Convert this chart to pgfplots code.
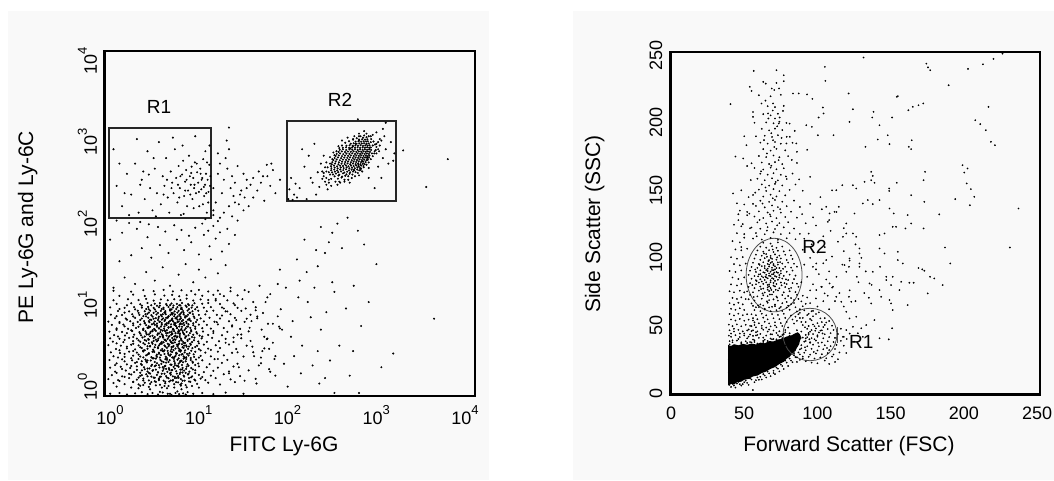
\documentclass[border=0pt]{standalone}
\usepackage{pgfplots}
\pgfplotsset{compat=1.18}
\usepackage{fontspec}
\setmainfont{Liberation Sans}
\definecolor{panel}{RGB}{249,249,249}
\newcommand\tp[1]{10\raisebox{0.55em}{\fontsize{13bp}{14bp}\selectfont #1}}
\newcommand\tickfont{\fontsize{18bp}{21bp}\selectfont}
\newcommand\labfont{\fontsize{21bp}{24bp}\selectfont}
\newcommand\regfont{\fontsize{19bp}{22bp}\selectfont}

\pgfplotsset{
  cyto/.style={
    scale only axis, anchor=south west, axis on top,
    axis line style={line width=2.6bp},
    tick style={draw=none},
    ticklabel style={font=\tickfont},
  },
  dots/.style={only marks, mark=*, mark size=#1, mark options={draw=none, fill=black}},
}

\begin{document}
\begin{tikzpicture}[x=1bp,y=1bp]
\path[use as bounding box] (0,0) rectangle (1054,481);
\fill[white] (0,0) rectangle (1054,481);
\fill[panel] (8,1) rectangle (489,470);
\fill[panel] (573,1) rectangle (1054,470);

% ---------------- left: Ly-6G vs Ly-6G/Ly-6C (log/log)
\begin{axis}[cyto,
  at={(104.7bp,85bp)}, width=370.3bp, height=345bp,
  xmode=log, ymode=log,
  xmin=0.955, xmax=14190, ymin=0.844, ymax=14450,
  xtick={1,10,100,1000,10000}, xticklabels={\tp{0},\tp{1},\tp{2},\tp{3},\tp{4}},
  ytick={1,10,100,1000,10000}, yticklabels={\tp{0},\tp{1},\tp{2},\tp{3},\tp{4}},
  xticklabel style={anchor=north, inner ysep=9bp, xshift=3.5bp},
  yticklabel style={yshift=3.5bp, rotate=90, anchor=south, inner ysep=7.5bp},
]
% main population
\addplot[dots=0.85bp] coordinates {
(1.1,0.9) (1.4,0.92) (1.7,0.88) (2.1,0.91) (2.5,0.94) (2.9,0.89) (3.3,0.92) (3.8,0.88) (4.3,0.93) (4.9,0.9) (5.4,0.87) (6.0,0.92) (6.6,0.89) (7.3,0.91) (8.2,0.94) (9.5,0.9) (12,0.92) (16,0.89) (22,0.93) (35,0.9)
(1.2,1.22) (1.6,1.18) (2.0,1.25) (2.3,1.17) (2.7,1.23) (3.1,1.19) (3.6,1.26) (4.0,1.16) (4.6,1.21) (5.1,1.27) (5.8,1.18) (6.4,1.24) (7.0,1.2) (7.8,1.15) (8.8,1.26) (10.5,1.19) (14,1.23) (19,1.17) (28,1.25)
(1.05,1.36) (1.35,1.32) (1.8,1.4) (2.2,1.34) (2.6,1.38) (3.0,1.31) (3.4,1.42) (3.9,1.35) (4.4,1.3) (5.0,1.39) (5.6,1.33) (6.2,1.41) (6.9,1.36) (7.6,1.3) (8.5,1.4) (9.8,1.34) (11.5,1.38) (13,1.32) (17,1.4) (25,1.35) (48,1.37)
(1.15,1.52) (1.5,1.47) (1.9,1.55) (2.4,1.49) (2.8,1.56) (3.2,1.46) (3.7,1.53) (4.2,1.58) (4.7,1.48) (5.3,1.54) (5.9,1.45) (6.7,1.57) (7.4,1.5) (8.3,1.55) (9.2,1.47) (11,1.53) (15,1.5) (21,1.56) (32,1.48)
(1.25,1.68) (1.65,1.73) (2.05,1.66) (2.5,1.74) (2.9,1.69) (3.35,1.75) (3.8,1.65) (4.3,1.72) (4.85,1.67) (5.5,1.76) (6.1,1.7) (6.8,1.64) (7.5,1.73) (8.6,1.68) (10,1.75) (12.5,1.66) (16,1.72) (24,1.69) (40,1.74) (70,1.67)
(1.1,1.88) (1.45,1.93) (1.85,1.86) (2.2,1.95) (2.65,1.9) (3.05,1.84) (3.5,1.96) (3.95,1.89) (4.5,1.94) (5.05,1.85) (5.7,1.92) (6.4,1.97) (7.2,1.87) (8.0,1.93) (9.0,1.86) (11,1.95) (13.5,1.9) (18,1.88) (27,1.94)
(1.3,2.12) (1.7,2.06) (2.1,2.15) (2.45,2.08) (2.85,2.18) (3.25,2.04) (3.7,2.13) (4.15,2.09) (4.7,2.17) (5.25,2.05) (5.9,2.14) (6.5,2.1) (7.3,2.19) (8.2,2.07) (9.4,2.16) (10.8,2.11) (14.5,2.08) (20,2.15) (30,2.1) (55,2.13)
(1.08,2.33) (1.5,2.38) (1.95,2.31) (2.3,2.4) (2.75,2.36) (3.15,2.3) (3.6,2.42) (4.05,2.34) (4.6,2.39) (5.15,2.32) (5.75,2.41) (6.3,2.35) (7.0,2.29) (7.9,2.4) (8.9,2.33) (10.2,2.37) (12,2.31) (16.5,2.39) (23,2.34)
(1.2,2.6) (1.6,2.55) (2.0,2.64) (2.4,2.57) (2.8,2.66) (3.2,2.53) (3.65,2.62) (4.1,2.68) (4.65,2.56) (5.2,2.63) (5.85,2.54) (6.6,2.67) (7.4,2.58) (8.4,2.65) (9.7,2.55) (11.5,2.62) (15,2.59) (21,2.66) (35,2.57) (80,2.61)
(1.12,2.9) (1.42,2.85) (1.8,2.95) (2.2,2.88) (2.6,2.97) (3.0,2.83) (3.45,2.93) (3.9,2.87) (4.4,2.98) (4.95,2.84) (5.5,2.92) (6.1,2.86) (6.8,2.96) (7.6,2.89) (8.6,2.82) (10,2.94) (13,2.88) (18,2.95) (26,2.86) (45,2.91)
(1.28,3.18) (1.7,3.24) (2.1,3.15) (2.5,3.27) (2.9,3.2) (3.35,3.13) (3.8,3.25) (4.25,3.19) (4.8,3.29) (5.4,3.16) (6.0,3.23) (6.7,3.14) (7.4,3.28) (8.3,3.2) (9.3,3.26) (11,3.17) (14,3.22) (19,3.28) (29,3.18) (60,3.24)
(1.05,3.55) (1.45,3.5) (1.9,3.6) (2.3,3.52) (2.7,3.63) (3.1,3.48) (3.55,3.58) (4.0,3.65) (4.5,3.51) (5.1,3.6) (5.7,3.47) (6.4,3.57) (7.1,3.64) (7.9,3.53) (8.9,3.59) (10.5,3.49) (12.5,3.61) (17,3.54) (24,3.62) (38,3.5)
(1.18,3.92) (1.55,3.86) (2.0,3.98) (2.4,3.9) (2.8,4.02) (3.25,3.85) (3.7,3.95) (4.2,3.88) (4.7,4.0) (5.3,3.91) (5.9,3.84) (6.6,3.97) (7.3,3.89) (8.2,4.01) (9.2,3.87) (10.8,3.94) (13.5,3.9) (18.5,3.97) (27,3.88)
(1.1,4.3) (1.4,4.25) (1.8,4.36) (2.2,4.28) (2.55,4.4) (2.95,4.22) (3.4,4.33) (3.85,4.27) (4.35,4.38) (4.9,4.24) (5.5,4.34) (6.2,4.41) (6.9,4.26) (7.7,4.35) (8.6,4.23) (9.8,4.39) (11.8,4.29) (15.5,4.36) (22,4.25) (33,4.32) (65,4.28)
(1.22,4.72) (1.62,4.66) (2.05,4.78) (2.45,4.68) (2.85,4.8) (3.3,4.64) (3.75,4.75) (4.2,4.82) (4.75,4.67) (5.35,4.76) (6.0,4.63) (6.7,4.73) (7.5,4.8) (8.4,4.69) (9.5,4.77) (11.2,4.65) (14,4.74) (20,4.7) (30,4.78)
(1.08,5.2) (1.5,5.15) (1.95,5.28) (2.35,5.12) (2.75,5.25) (3.15,5.18) (3.6,5.3) (4.05,5.14) (4.6,5.24) (5.15,5.1) (5.8,5.27) (6.45,5.19) (7.2,5.31) (8.0,5.16) (9.0,5.26) (10.3,5.13) (12.2,5.22) (16,5.29) (23,5.17) (40,5.24)
(1.3,5.7) (1.75,5.63) (2.15,5.77) (2.6,5.66) (3.0,5.8) (3.45,5.62) (3.9,5.73) (4.45,5.67) (5.0,5.79) (5.6,5.64) (6.25,5.75) (7.0,5.6) (7.8,5.72) (8.8,5.78) (10,5.65) (12,5.74) (15,5.68) (21,5.76) (32,5.63) (90,5.7)
(1.15,6.28) (1.55,6.35) (2.0,6.22) (2.4,6.38) (2.8,6.25) (3.25,6.4) (3.7,6.2) (4.2,6.33) (4.75,6.26) (5.35,6.39) (5.95,6.23) (6.7,6.36) (7.5,6.27) (8.4,6.41) (9.5,6.24) (11,6.34) (13.5,6.29) (18,6.37) (26,6.21)
(1.05,6.9) (1.4,6.82) (1.85,6.97) (2.25,6.85) (2.65,7.0) (3.05,6.8) (3.5,6.93) (3.95,6.86) (4.5,7.02) (5.05,6.84) (5.65,6.95) (6.3,6.81) (7.05,6.98) (7.9,6.88) (8.9,7.03) (10.2,6.83) (12.5,6.94) (16.5,6.87) (24,6.99) (36,6.84)
(1.25,7.6) (1.65,7.52) (2.1,7.68) (2.5,7.55) (2.95,7.7) (3.4,7.5) (3.85,7.64) (4.35,7.57) (4.9,7.72) (5.5,7.53) (6.15,7.66) (6.9,7.58) (7.7,7.74) (8.6,7.51) (9.8,7.63) (11.5,7.56) (14.5,7.69) (19,7.54) (28,7.67) (50,7.6)
(1.12,8.4) (1.5,8.32) (1.95,8.48) (2.35,8.35) (2.75,8.5) (3.2,8.3) (3.65,8.44) (4.1,8.37) (4.65,8.52) (5.25,8.33) (5.9,8.46) (6.6,8.31) (7.4,8.49) (8.3,8.38) (9.4,8.53) (11,8.34) (13,8.45) (17.5,8.36) (25,8.5) (42,8.39)
(1.35,9.3) (1.8,9.2) (2.25,9.38) (2.7,9.25) (3.1,9.4) (3.6,9.22) (4.1,9.34) (4.6,9.27) (5.2,9.42) (5.85,9.21) (6.5,9.36) (7.3,9.28) (8.2,9.43) (9.3,9.24) (10.8,9.37) (13.5,9.26) (16,9.39) (22,9.23) (33,9.35)
(1.1,10.3) (1.6,10.2) (2.05,10.4) (2.5,10.25) (2.95,10.45) (3.4,10.18) (3.9,10.35) (4.4,10.22) (5.0,10.42) (5.6,10.28) (6.3,10.38) (7.0,10.2) (8.0,10.44) (9.1,10.26) (10.5,10.36) (12.5,10.23) (15,10.41) (20,10.3) (30,10.2) (48,10.35)
(1.3,11.4) (1.9,11.6) (2.4,11.3) (2.9,11.7) (3.5,11.45) (4.0,11.65) (4.7,11.35) (5.4,11.55) (6.2,11.4) (7.1,11.7) (8.3,11.3) (9.8,11.6) (12,11.45) (14,11.7) (19,11.35) (27,11.55)
(1.2,12.6) (1.75,13.0) (2.3,12.7) (2.8,13.1) (3.4,12.5) (4.1,12.9) (4.9,12.6) (5.8,13.0) (6.8,12.7) (8.0,13.2) (9.5,12.5) (11.5,12.9) (14,12.7) (17,13.1) (23,12.6)
(1.4,14.3) (2.0,14.8) (2.7,14.2) (3.5,14.9) (4.5,14.4) (5.5,14.7) (6.6,14.1) (8.0,14.6) (10,14.9) (12,14.3) (16,14.7) (21,14.2) (30,14.5)
(1.2,16.5) (1.9,16.1) (2.6,16.8) (3.4,16.3) (4.4,16.9) (5.6,16.2) (7.0,16.7) (9.0,16.4) (11,16.9) (14,16.2) (18,16.6) (25,16.3) (36,16.8)
};
% dense core of the main population
\addplot[dots=0.85bp] coordinates {
(2.6,1.15) (3.5,1.28) (4.5,1.12) (5.6,1.3) (6.8,1.16) (3.0,1.62) (4.0,1.45) (5.2,1.6) (6.4,1.48) (7.8,1.62)
(2.7,1.8) (3.6,2.0) (4.7,1.82) (5.9,2.02) (7.1,1.78) (2.5,2.25) (3.4,2.45) (4.4,2.2) (5.5,2.5) (6.8,2.28)
(7.9,2.52) (2.9,2.72) (3.9,2.78) (5.0,2.7) (6.2,2.8) (7.2,2.75) (2.6,3.05) (3.5,3.35) (4.5,3.08) (5.6,3.38)
(6.9,3.05) (8.0,3.4) (3.0,3.75) (4.2,3.7) (5.4,3.8) (6.6,3.72) (7.7,3.78) (2.7,4.1) (3.6,4.15) (4.6,4.12)
(5.8,4.18) (7.0,4.08) (3.1,4.55) (4.0,4.5) (5.1,4.58) (6.3,4.52) (7.9,4.56) (2.8,5.0) (3.8,4.95) (4.9,5.02)
(6.0,4.98) (7.3,5.05) (2.6,5.45) (3.5,5.5) (4.5,5.42) (5.7,5.52) (6.9,5.46) (3.1,5.95) (4.1,6.0) (5.3,5.92)
(6.6,6.02) (8.1,5.98) (2.7,6.6) (3.7,6.55) (4.8,6.62) (6.0,6.58) (7.4,6.65) (3.2,7.25) (4.2,7.3) (5.4,7.22)
(6.7,7.32) (8.3,7.28) (2.8,8.0) (3.9,7.95) (5.0,8.05) (6.3,7.98) (7.7,8.08) (3.4,8.85) (4.5,8.9) (5.6,8.8)
(7.0,8.95) (8.6,8.86) (3.0,9.8) (4.2,9.85) (5.4,9.75) (6.9,9.9) (3.7,10.8) (5.2,11.0) (6.8,10.9) (8.5,11.0)
(2.3,1.05) (3.1,1.02) (3.9,1.38) (4.8,1.05) (5.9,1.4) (7.0,1.02) (2.5,1.52) (3.3,1.72) (4.3,1.9) (5.4,1.75)
(6.5,1.92) (2.9,2.3) (3.7,2.55) (4.8,2.35) (6.0,2.62) (7.4,2.42) (3.3,2.95) (4.3,3.0) (5.3,2.98) (6.5,3.25)
(2.9,3.45) (3.9,3.52) (5.0,3.45) (6.2,3.6) (7.5,3.5) (3.4,4.0) (4.4,3.85) (5.6,4.05) (6.9,4.25) (3.0,4.8)
(4.3,4.7) (5.5,4.85) (6.7,4.95) (3.3,5.25) (4.3,5.35) (5.4,5.2) (6.6,5.3) (2.9,5.8) (3.9,5.68) (5.0,5.9)
(6.2,5.75) (3.5,6.3) (4.6,6.4) (5.8,6.3) (7.1,6.45) (3.0,7.0) (4.0,6.9) (5.2,7.05) (6.5,6.92) (3.6,7.6)
(4.7,7.7) (6.0,7.58) (2.9,8.6) (4.3,8.5) (5.5,8.45) (6.8,8.6) (4.0,0.95) (5.2,0.9) (6.3,0.96) (7.8,0.88)
(1.3,1.1) (1.9,1.07) (2.4,1.13) (3.0,1.09) (3.6,1.14) (4.2,1.07) (5.0,1.12) (5.8,1.07) (6.9,1.13) (8.0,1.08) (9.2,1.12) (11,1.07)
(1.4,1.29) (2.0,1.26) (2.6,1.31) (3.2,1.25) (3.9,1.32) (4.6,1.26) (5.3,1.31) (6.1,1.25) (7.2,1.3) (8.5,1.27) (10,1.31)
(1.6,1.45) (2.3,1.42) (2.9,1.47) (3.5,1.41) (4.1,1.46) (4.8,1.42) (5.6,1.47) (6.5,1.41) (7.5,1.46) (9,1.43) (12,1.44)
(1.3,1.62) (1.8,1.58) (2.4,1.63) (3.1,1.59) (3.8,1.64) (4.5,1.58) (5.3,1.63) (6.2,1.59) (7.2,1.64) (8.4,1.58) (10,1.62)
(1.5,1.81) (2.2,1.77) (2.9,1.83) (3.6,1.78) (4.4,1.82) (5.1,1.77) (5.9,1.83) (6.8,1.78) (7.9,1.82) (9.4,1.79)
(1.25,2.02) (1.9,1.97) (2.5,2.03) (3.2,1.97) (3.9,2.02) (4.6,1.98) (5.4,2.04) (6.2,1.99) (7.1,2.03) (8.4,1.98) (10,2.02)
(1.6,2.25) (2.2,2.2) (2.8,2.26) (3.5,2.2) (4.2,2.25) (5.0,2.21) (5.8,2.26) (6.7,2.2) (7.8,2.25) (9.3,2.22)
(1.35,2.5) (1.9,2.45) (2.6,2.51) (3.3,2.45) (4.0,2.5) (4.8,2.46) (5.6,2.52) (6.5,2.45) (7.6,2.5) (8.9,2.47) (11,2.5)
(1.6,2.77) (2.3,2.72) (3.0,2.78) (3.7,2.72) (4.5,2.77) (5.3,2.73) (6.1,2.78) (7.0,2.72) (8.1,2.77) (9.6,2.74)
(1.4,3.07) (2.0,3.01) (2.7,3.08) (3.4,3.02) (4.1,3.07) (4.9,3.02) (5.7,3.08) (6.6,3.02) (7.7,3.07) (9.0,3.03) (11.5,3.06)
(1.7,3.4) (2.4,3.35) (3.1,3.42) (3.8,3.35) (4.6,3.41) (5.4,3.36) (6.3,3.42) (7.2,3.35) (8.5,3.41) (10,3.36)
(1.3,3.74) (2.0,3.69) (2.6,3.76) (3.3,3.69) (4.1,3.75) (4.9,3.7) (5.6,3.76) (6.5,3.69) (7.5,3.75) (8.8,3.7) (11,3.74)
(1.6,4.13) (2.3,4.07) (3.0,4.14) (3.8,4.07) (4.5,4.13) (5.2,4.08) (6.0,4.14) (7.0,4.07) (8.2,4.13) (9.7,4.08)
(1.35,4.53) (2.0,4.47) (2.7,4.54) (3.5,4.47) (4.3,4.53) (5.0,4.48) (5.8,4.54) (6.7,4.47) (7.8,4.53) (9.2,4.48) (12,4.52)
(1.7,4.98) (2.4,4.92) (3.1,4.99) (3.9,4.92) (4.7,4.98) (5.5,4.93) (6.4,4.99) (7.4,4.92) (8.7,4.98) (10.5,4.93)
(1.3,5.48) (1.9,5.42) (2.6,5.49) (3.3,5.42) (4.1,5.48) (4.8,5.43) (5.6,5.49) (6.5,5.42) (7.6,5.48) (9,5.43)
(1.6,6.04) (2.3,5.97) (3.0,6.05) (3.7,5.97) (4.5,6.03) (5.3,5.98) (6.1,6.05) (7.1,5.97) (8.3,6.03) (10,5.98)
(1.4,6.64) (2.0,6.57) (2.7,6.65) (3.4,6.57) (4.2,6.63) (5.0,6.58) (5.8,6.65) (6.8,6.57) (8.0,6.63) (9.5,6.58)
(1.7,7.29) (2.4,7.22) (3.1,7.3) (3.8,7.22) (4.6,7.28) (5.5,7.23) (6.3,7.3) (7.3,7.22) (8.6,7.28) (10.5,7.23)
(1.3,8.04) (2.0,7.97) (2.6,8.05) (3.3,7.97) (4.2,8.03) (5.0,7.98) (5.8,8.05) (6.8,7.97) (8.0,8.03) (9.6,7.98)
(1.6,8.9) (2.3,8.82) (3.0,8.91) (3.8,8.82) (4.6,8.88) (5.4,8.83) (6.3,8.91) (7.4,8.82) (8.8,8.88)
(1.4,9.85) (2.1,9.76) (2.8,9.86) (3.5,9.76) (4.4,9.83) (5.2,9.77) (6.1,9.86) (7.1,9.76) (8.5,9.83) (10,9.78)
(1.7,10.95) (2.5,10.85) (3.2,10.96) (4.0,10.85) (4.8,10.93) (5.7,10.87) (6.6,10.96) (7.8,10.85) (9.3,10.92)
};
% tail of the main population towards higher FITC
\addplot[dots=0.8bp] coordinates {
(16,5.0) (18,2.4) (20,8.2) (22,3.8) (24,1.6) (26,6.0) (28,11) (30,2.9) (33,4.8) (36,1.3) (38,7.5) (40,16)
(44,3.4) (48,9.5) (52,2.0) (56,5.5) (62,12) (68,1.8) (75,3.8) (85,8) (17,12.5) (19,15) (21,10) (25,18)
(29,7.2) (34,13) (41,5.8) (46,2.6) (53,19) (58,8.8) (64,4.2) (70,15) (78,2.4) (88,6.0) (15,3.1) (17.5,6.8)
(23,9.2) (27,4.4) (31,1.9) (37,10) (43,7.0) (49,1.2) (57,3.0) (66,6.5)
(100,2.1) (120,4.5) (130,2.6) (145,13.7) (155,1.6) (185,12) (200,7.8) (230,52) (290,48) (330,2.3) (350,21)
(370,16) (370,0.92) (610,19) (700,0.92) (740,6.1) (800,61) (1250,1.9) (1700,2.8) (4900,7.5) (92,9.8)
(65,13.7) (60,4.5) (80,1.5) (110,1.1) (160,3.5) (210,2.0) (250,1.2) (260,5.5) (420,3.5) (500,10) (550,1.5)
(90,30) (140,40) (180,28) (300,9) (220,18) (170,70) (260,100) (1100,35) (400,110) (350,85) (600,3) (900,12)
(75,6.5) (85,20) (105,18) (50,8) (55,2.5) (45,12) (42,4) (68,3.2) (95,5.5) (125,7) (150,22) (240,33)
(320,65) (450,55) (520,130) (680,90) (290,1.4) (240,3)
};
% events between the populations
\addplot[dots=0.8bp] coordinates {
(1.2,18) (1.6,24) (2.1,20) (2.8,28) (3.5,22) (4.3,32) (5.2,19) (6.5,26) (7.8,35) (9.5,21) (11,30) (13,24)
(15,40) (18,27) (22,34) (1.4,38) (1.9,45) (2.5,55) (3.2,42) (4.0,60) (5.0,48) (6.2,70) (7.5,52) (9.0,65)
(11,46) (12.5,80) (14.5,58) (17,72) (20,50) (24,62) (1.1,70) (1.5,85) (2.2,95) (2.9,75) (3.8,100) (4.6,88)
(5.8,105) (7.0,92) (8.5,78) (10,98) (12,110) (14,90) (16,103) (19,86) (23,95) (28,80) (1.3,120) (2.4,115)
(3.0,108) (1.8,112) (13,125) (16,140) (18,118) (21,150) (26,135) (30,120) (35,160) (28,200) (32,250)
(40,180) (45,230) (38,300) (50,280) (55,350) (60,210) (65,420) (70,320) (80,260) (90,380) (75,500)
(16,300) (18,450) (17,200) (19,600) (21,380) (20,260) (23,520) (25,300) (22,700) (26,420) (28,350)
(30,560) (33,280) (35,450) (38,380) (42,330) (16,160) (19,130) (24,180) (27,240) (31,190) (36,230)
(45,400) (52,480) (58,420) (64,580) (72,600) (18,800) (24,900) (24,1660) (22.6,1150)
};
% R1 gate events
\addplot[dots=0.8bp] coordinates {
(1.3,320) (1.5,180) (1.7,450) (1.9,250) (2.1,600) (2.3,150) (2.5,380) (2.7,220) (2.9,850) (3.1,300)
(3.3,160) (3.5,520) (3.7,260) (3.9,1100) (4.1,190) (4.3,420) (4.5,320) (4.7,700) (4.9,230) (5.1,150)
(5.3,480) (5.5,350) (5.7,260) (5.9,900) (6.1,400) (6.3,200) (6.5,560) (6.7,300) (6.9,140) (7.1,440)
(7.3,650) (7.5,240) (7.7,360) (7.9,500) (8.1,180) (8.3,280) (8.5,750) (8.7,420) (8.9,330) (9.1,550)
(9.3,220) (9.5,400) (9.7,300) (9.9,620) (10.2,260) (10.5,470) (10.8,350) (11.1,180) (11.4,520) (11.7,290)
(12,400) (12.3,680) (12.6,240) (12.9,330) (13.2,450) (13.5,150) (13.8,380) (14.1,270) (14.4,580) (14.7,320)
(14.5,1000) (1.2,900) (2.2,1200) (3.4,700) (5.6,1250) (7.2,1000) (10,1300) (13,850) (1.4,600) (2.6,480)
(4.4,250) (6.4,330) (8.8,250) (11,270) (12.2,190) (14,200) (9.6,170) (7.4,145) (3.6,135) (1.8,140)
(10.4,600) (11.8,380) (13.6,620) (9,460) (6.8,420) (5.4,300) (12.5,310) (14.8,420) (8,380) (9.8,330)
(11.5,450) (13.3,260) (7.7,280) (6.6,230) (4.8,380) (3.0,440) (2.4,330) (1.6,260)
};
% R2 gate population
\addplot[dots=0.8bp] coordinates {
(405,392) (445,404)
(372,418) (410,428) (452,415) (490,425)
(356,441) (385,452) (420,438) (462,455) (505,443) (548,450) (590,440)
(348,468) (375,478) (408,470) (440,480) (478,466) (515,477) (555,469) (600,479) (640,471)
(340,497) (368,506) (398,494) (430,508) (465,499) (500,510) (540,495) (578,505) (620,498) (668,507) (705,496)
(342,526) (372,536) (402,524) (436,538) (470,529) (508,539) (545,525) (585,534) (628,527) (672,537) (718,530) (740,522)
(338,557) (365,568) (396,555) (428,566) (462,560) (498,570) (532,556) (570,566) (610,559) (652,569) (695,557) (740,567) (785,560)
(345,590) (376,601) (410,588) (445,599) (482,593) (520,603) (558,589) (598,600) (640,592) (685,602) (728,591) (772,598) (808,590)
(350,625) (382,636) (416,622) (452,634) (490,628) (528,638) (568,624) (608,635) (650,627) (694,637) (738,626) (782,634) (830,624)
(360,662) (392,673) (426,659) (462,671) (500,665) (540,675) (580,661) (622,672) (665,664) (710,674) (755,663) (800,670) (850,660) (880,668)
(372,702) (405,713) (440,699) (478,711) (516,705) (556,715) (598,701) (640,712) (684,704) (728,714) (772,703) (818,711) (865,701) (905,709)
(382,744) (415,755) (450,741) (488,753) (528,747) (568,757) (610,743) (654,754) (698,746) (742,756) (788,745) (835,753) (880,743) (918,751)
(392,788) (428,799) (465,785) (505,797) (545,791) (588,801) (630,787) (675,798) (720,790) (765,800) (812,789) (858,797) (905,787)
(412,835) (448,846) (486,832) (525,844) (566,838) (608,848) (652,834) (696,845) (742,837) (788,847) (835,836) (882,844) (930,834)
(425,885) (462,896) (502,882) (545,894) (588,888) (632,898) (676,884) (722,895) (768,887) (815,897) (862,886) (910,894) (958,884)
(460,938) (500,949) (542,935) (586,947) (630,941) (675,951) (720,937) (768,948) (815,940) (862,950) (912,939) (950,946)
(505,994) (548,1005) (592,991) (638,1003) (684,997) (730,1007) (778,993) (826,1004) (875,996) (920,1006)
(565,1053) (610,1064) (658,1050) (705,1062) (752,1056) (800,1066) (850,1052) (900,1061)
(640,1116) (690,1127) (740,1113) (790,1125) (842,1119) (880,1128)
(700,1183) (760,1194) (820,1180) (870,1191) (780,1250) (850,1265)
(300,400) (320,470) (310,540) (330,600) (350,680) (370,760) (390,850) (420,930) (450,1000) (490,1080)
(540,1130) (600,1180) (660,1230) (730,1300) (800,1330) (900,1300) (960,1200) (1020,1120) (1060,1030)
(1100,960) (1080,880) (1040,800) (1000,740) (950,680) (900,620) (850,580) (790,540) (730,500) (680,460)
(630,420) (580,400) (530,380) (480,360) (430,350) (380,360) (340,390) (320,350) (280,460) (300,620)
(360,820) (450,1150) (520,1250) (700,1400) (1000,1350) (1150,1100) (1200,1000) (1100,800) (900,530)
(700,430) (550,350) (400,330) (290,540) (270,480) (330,720) (410,980) (620,1300) (850,1400) (1250,1150)
(1180,850) (760,480)
(300,330) (320,380) (280,420) (310,290) (340,320) (290,360) (270,390) (250,310) (300,480) (330,440)
(420,360) (480,380) (530,420) (610,500) (690,580) (760,640) (860,720) (980,800) (1050,850) (1150,900)
(1000,1000) (1100,1050) (950,1100) (560,920) (600,980) (640,1050) (700,1150)
(130,250) (150,300) (180,220) (200,400) (170,550) (210,350) (240,470) (160,900) (190,750) (230,250)
(260,600) (120,400) (140,230) (280,750) (220,1050) (1300,700) (1400,900) (1500,600) (1250,400) (1600,1100)
(1100,1450) (1300,1600) (800,1500) (1750,800) (1700,650) (1050,300) (900,400) (1150,550) (1350,1300)
(950,1300) (700,1300) (600,1200) (1200,1200) (115,290) (135,340) (112,220) (125,215)
(4000,310) (7000,680) (2200,870) (680,2100) (1400,1900)
};
\draw[line width=1.3bp, black!85] (axis cs:1.07,129) rectangle (axis cs:15.0,1640);
\draw[line width=1.3bp, black!85] (axis cs:108,208) rectangle (axis cs:1828,2000);
\node[font=\regfont] at (axis cs:3.9,2970) {R1};
\node[font=\regfont] at (axis cs:428,3615) {R2};
\end{axis}

% ---------------- right: FSC vs SSC (linear)
\begin{axis}[cyto,
  at={(670.5bp,86.5bp)}, width=369.5bp, height=342.5bp,
  xmin=-0.34, xmax=252, ymin=-1.1, ymax=252.4,
  xtick={0,50,...,250}, ytick={0,50,...,250},
  /pgf/number format/assume math mode=true,
  xticklabel style={anchor=north, inner ysep=12.5bp},
  yticklabel style={rotate=90, anchor=south, inner ysep=8bp},
]
% saturated core
\addplot[fill=black, draw=none] coordinates {
(39,5.5) (41,6.8) (43,6.2) (45,7.9) (48,8.4) (50,9.8) (53,10.4) (56,12.3) (59,12.9) (62,14.8) (65,15.9)
(68,17.9) (71,19.2) (74,21.5) (77,23.1) (79,25.4) (81,26.8) (83,29.3) (85,31.2) (86,33.5) (87.5,36)
(88,38.5) (89,41) (88,43.5) (86.5,45) (84.5,44) (82,42.5) (79,41.8) (76,40.2) (73,39.6) (70,38.2)
(67,38.4) (64,36.8) (61,37.3) (58,35.9) (55,36.6) (52,35.7) (49,36.4) (46,35.3) (43,36.1) (41,34.8) (39,35.5)
} -- cycle;
% R2 population
\addplot[dots=0.65bp] coordinates {
(58,63.5) (64,62.4) (69,63.8) (74,62.7) (79,63.2)
(55,66.3) (61,65.6) (66,66.8) (71,65.4) (76,66.5) (82,65.8)
(53,69.4) (57,68.5) (62,69.8) (67,68.7) (70,69.3) (73,68.4) (78,69.9) (84,68.8)
(54,72.6) (59,71.5) (63,72.3) (66,71.7) (69,72.9) (72,71.4) (76,72.5) (80,71.8) (86,72.7)
(52,75.2) (56,74.6) (60,75.8) (64,74.4) (67,75.5) (70,74.8) (73,75.9) (77,74.5) (81,75.3) (85,74.7)
(53,78.5) (57,77.6) (61,78.8) (63,77.3) (66,78.2) (68,77.7) (71,78.9) (74,77.5) (78,78.4) (82,77.8) (87,78.6)
(54,81.3) (58,80.5) (60,81.7) (63,80.8) (65,81.9) (67,80.4) (70,81.5) (72,80.7) (75,81.8) (79,80.6) (83,81.4) (86,80.9)
(55,84.6) (58,83.5) (61,84.2) (64,83.7) (66,84.9) (68,83.4) (70,84.5) (73,83.8) (76,84.7) (80,83.6) (84,84.3)
(53,87.4) (57,86.6) (60,87.8) (62,86.4) (65,87.5) (67,86.8) (69,87.9) (71,86.5) (74,87.3) (77,86.7) (81,87.6) (85,86.9)
(54,90.5) (58,89.6) (61,90.8) (63,89.4) (66,90.3) (68,89.8) (70,90.9) (72,89.5) (75,90.4) (79,89.7) (83,90.6)
(55,93.3) (59,92.6) (62,93.9) (64,92.4) (67,93.6) (69,92.7) (71,93.8) (74,92.5) (78,93.4) (82,92.8) (86,93.5)
(56,96.4) (60,95.5) (63,96.8) (66,95.6) (68,96.3) (70,95.4) (73,96.7) (76,95.8) (80,96.5) (84,95.7)
(57,99.5) (61,98.6) (64,99.8) (67,98.4) (69,99.3) (72,98.7) (75,99.6) (79,98.5) (83,99.2)
(58,102.4) (62,101.6) (65,102.8) (68,101.5) (71,102.6) (74,101.7) (78,102.3) (82,101.8)
(59,105.5) (63,104.6) (67,105.7) (70,104.4) (73,105.3) (77,104.8) (81,105.6)
(61,108.3) (65,107.6) (69,108.7) (72,107.5) (76,108.4) (63,111.2) (68,110.6) (73,111.5)
(65,85.5) (67,88.5) (69,85) (71,91.5) (66,92) (68,82) (70,94.5) (72,86) (64,89) (66,80) (69,97) (71,83)
(73,89) (67,95) (63,85.5) (65,91) (68,86.5) (70,79.5) (72,92.5) (74,85.5) (64,94) (66,76.5) (68,100)
(62,82.5) (70,88) (75,88.5) (61,88) (67,79) (73,95) (69,91)
(59.5,64.8) (65.5,67.9) (72.5,70.6) (56.5,71.1) (62.5,73.7) (68.5,76.3) (75.5,79.7) (58.5,82.9) (64.5,86.1)
(70.5,89.2) (76.5,91.9) (60.5,94.8) (66.5,97.7) (72.5,100.4) (63.5,103.3) (69.5,106.2) (57.5,91.4) (78.5,84.1)
(80.5,77.2) (55.5,79.9) (74.5,96.9) (65.5,100.8) (61.5,76.9) (67.5,72.9) (71.5,76.4) (77.5,81.3) (59.5,86.3)
};
% stream above R2 and left edge
\addplot[dots=0.65bp] coordinates {
(56,114.3) (62,113.6) (68,114.8) (73,113.4) (79,114.5) (85,113.8) (91,114.2)
(58,118.4) (64,117.5) (70,118.9) (75,117.6) (81,118.3) (88,117.8)
(55,122.5) (61,121.6) (66,122.8) (71,121.4) (77,122.6) (84,121.7)
(59,126.3) (65,125.5) (69,126.9) (74,125.7) (80,126.4) (92,125.6)
(57,130.6) (63,129.5) (68,130.8) (72,129.4) (78,130.3) (86,129.8)
(60,134.4) (66,133.6) (70,134.9) (75,133.5) (82,134.2)
(58,138.5) (64,137.4) (69,138.8) (73,137.6) (79,138.3) (88,137.7)
(61,142.3) (67,141.5) (71,142.9) (76,141.6) (84,142.4)
(56,146.6) (63,145.4) (68,146.8) (72,145.5) (78,146.3)
(60,150.5) (65,149.6) (70,150.9) (74,149.4) (81,150.3) (90,149.7)
(62,154.4) (67,153.5) (71,154.8) (76,153.6) (85,154.3)
(59,158.6) (64,157.5) (69,158.9) (73,157.4) (79,158.4)
(61,162.3) (66,161.6) (70,162.7) (75,161.5) (83,162.4)
(57,166.5) (63,165.4) (68,166.8) (72,165.6) (77,166.3)
(62,170.6) (67,169.5) (71,170.9) (76,169.4) (86,170.3)
(60,175.4) (65,174.6) (70,175.8) (74,174.5) (80,175.3)
(63,180.5) (68,179.4) (72,180.7) (78,179.6)
(61,185.3) (66,184.6) (71,185.8) (75,184.5) (83,185.2)
(64,190.4) (69,189.5) (73,190.8) (79,189.6)
(62,195.5) (67,194.4) (71,195.7) (76,194.6)
(65,200.3) (70,199.6) (74,200.8) (81,199.4)
(63,206.4) (68,205.5) (73,206.7) (66,212.3) (71,211.6) (77,212.5)
(60,220.4) (68,219.6) (75,220.7) (63,230.3) (72,229.5)
(58.5,116) (65.5,120.2) (72.5,124.1) (60.5,128.1) (67.5,132.2) (74.5,136.1) (62.5,140.2) (69.5,144.1)
(57.5,148.3) (64.5,152.1) (71.5,156.2) (78.5,160.3) (61.5,164.1) (68.5,168.2) (73.5,172.4) (65.5,177.3)
(70.5,182.1) (63.5,187.2) (68.5,192.3) (72.5,197.4) (66.5,203.2) (69.5,209.1) (64.5,216.4) (70.5,224.3)
(76.5,208.8) (82.5,172.5) (87.5,158.1) (54.5,157.6) (53.5,132.8) (89.5,132.4) (95,160) (93,180)
(58,190) (55,170) (57,200)
(49.3,173.6) (42.4,147.7) (51.5,183.4) (44,175) (48,150) (52,168) (47,135) (53,145) (50,190)
(46,128) (50,115) (54,122) (48,108) (52,134) (56,140) (49,125)
(40,38.4) (42,37.6) (45,38.8) (48,37.5) (51,38.3) (54,37.7)
(39.5,42.5) (41,41.6) (44,42.8) (47,41.4) (50,42.6) (53,41.7) (56,42.3)
(40,46.4) (43,45.5) (46,46.7) (49,45.6) (52,46.3) (55,45.8)
(39.5,50.6) (42,49.5) (45,50.8) (48,49.4) (51,50.5) (54,49.7) (57,50.3)
(41,54.4) (44,53.6) (47,54.8) (50,53.5) (53,54.3) (56,53.7)
(40,58.5) (43,57.4) (46,58.7) (49,57.6) (52,58.3)
(41,62.3) (44,61.6) (47,62.7) (50,61.5) (40,66.5) (43,65.4) (46,66.8) (49,65.6)
(42,70.4) (45,69.6) (48,70.8) (51,69.5) (40,75.3) (43,74.6) (47,75.7) (50,74.5)
(41,80.4) (45,79.6) (48,80.7) (42,85.5) (46,84.4) (50,85.6) (40,90.3) (44,89.6) (48,90.7)
(43,95.4) (47,94.5) (51,95.8) (41,100.5) (45,99.4) (49,100.6) (44,106.3) (48,105.6) (52,106.8)
(42,112.4) (47,111.5) (45,118.3) (50,117.6) (43,124.5) (48,123.4) (46,132.3) (52,131.6) (45,140.4) (50,139.5)
};
% between the core, R1 and R2
\addplot[dots=0.65bp] coordinates {
(40,33.4) (43,32.6) (46,33.8) (49,32.5) (52,33.3) (55,32.7)
(58,34.4) (62,35.3) (66,34.6) (70,35.5) (74,34.5) (78,35.2)
(55,37.4) (59,36.6) (63,37.8) (67,36.5) (71,37.3) (75,36.7) (79,37.6) (84,36.8) (95,37.2)
(52,40.5) (56,39.6) (60,40.8) (64,39.4) (68,40.3) (72,39.7) (76,40.6) (80,39.5) (92,40.4) (98,39.8)
(54,43.3) (58,42.6) (61,43.7) (65,42.5) (69,43.4) (73,42.8) (77,43.6) (81,42.4) (94,43.2) (100,42.7)
(56,46.4) (59,45.6) (63,46.8) (66,45.5) (70,46.3) (74,45.7) (78,46.6) (95,45.4) (102,46.2)
(55,49.5) (58,48.6) (62,49.8) (65,48.4) (68,49.3) (72,48.7) (76,49.6) (80,48.5) (98,49.4) (104,48.8)
(57,52.3) (60,51.6) (64,52.7) (67,51.5) (71,52.4) (75,51.8) (79,52.6) (84,51.4) (92,52.5) (100,51.7) (106,52.2)
(56,55.4) (59,54.6) (63,55.8) (66,54.5) (70,55.3) (74,54.7) (78,55.6) (83,54.4) (88,55.5) (95,54.8) (102,55.2)
(55,58.3) (58,57.6) (62,58.7) (65,57.5) (69,58.4) (73,57.8) (77,58.6) (82,57.4) (87,58.3) (93,57.7) (99,58.5)
(57,61.4) (61,60.6) (64,61.8) (68,60.5) (72,61.3) (76,60.7) (81,61.6) (86,60.4) (91,61.2) (97,60.8)
(56,64.5) (60,63.6) (63,64.8) (67,63.4) (71,64.3) (75,63.7) (80,64.6) (85,63.5) (90,64.2)
(79,67.4) (84,66.6) (89,67.8) (95,66.5) (82,70.3) (87,69.6) (93,70.7)
(40,36) (42,39) (44,35) (46,40) (48,36.5) (50,44) (52,37) (54,35.5) (57,39) (59,43) (61,36) (63,41)
(66,38.5) (68,43.5) (70,40) (72,44.5) (74,41.5) (76,43) (78,45) (41,44) (43,47.5) (47,44) (53,47) (58,45)
(62,48) (67,47) (71,50) (57,37.8) (63,38.6) (69,39.8) (75,41.8) (81,44.2) (86,46.5) (89,45.5) (90,41)
(86,26.4) (90,25.6) (94,26.8) (98,25.5) (102,26.3) (106,25.7)
(84,29.5) (88,28.6) (91,29.8) (95,28.4) (99,29.3) (103,28.7) (107,29.6) (111,28.5)
(88,32.3) (92,31.6) (96,32.7) (100,31.5) (104,32.4) (108,31.8) (112,32.6)
(89,35.4) (93,34.6) (97,35.8) (101,34.5) (105,35.3) (109,34.7) (113,35.6)
(92,38.5) (95,37.6) (99,38.8) (103,37.4) (107,38.3) (111,37.7) (116,38.6)
(93,41.3) (96,40.6) (100,41.7) (104,40.5) (108,41.4) (112,40.8) (118,41.6)
(94,44.4) (97,43.6) (101,44.8) (105,43.5) (109,44.3) (114,43.7)
(93,47.5) (96,46.6) (99,47.8) (103,46.4) (107,47.3) (111,46.7) (116,47.6)
(90,50.3) (94,49.6) (97,50.7) (101,49.5) (105,50.4) (110,49.8)
(86,53.4) (89,52.6) (96,53.8) (103,52.5) (108,53.3) (85,56.5) (90,55.6) (97,56.8) (105,55.4)
(88,59.3) (94,58.6) (101,59.7)
(91.5,33.9) (94.5,39.8) (97.5,30.4) (100.5,37.1) (103.5,44.1) (106.5,33.3) (98.5,46.1) (91.5,48.7) (88.5,40.6)
(100,22) (105,24) (110,27) (115,30) (118,35) (120,40) (122,44) (125,38) (114,25) (108,21.5) (119.7,29.6)
(112,23) (96,22.5) (92,23.5) (88,24.5)
(40,6) (41,4.5) (43,5.5) (45,7) (47,6.5) (50,8) (52,7.5) (55,10) (58,9.5) (61,12) (64,13) (67,14.5)
(70,16.5) (73,18) (76,20) (79,22.5) (82,24) (85,26.5) (55.9,2.2) (39.5,15) (39.5,25) (44,4) (48,5.5)
(53,6) (62,10) (68,12.5) (74,16) (80,20) (86,23) (90,27) (57,8) (65,11.5) (71,14) (77,17.8)
(42,6.8) (46,8.2) (51,9.2) (54,10.8) (59,11.5) (63,14) (66,15.8) (72,18.8) (75,21) (78,24) (81,25.5)
(84,28) (87,30) (89,33) (91,38) (92,43) (49,6.6) (60,9.8) (70,14.8) (83,22.8)
};
% sparse large/granular events
\addplot[dots=0.65bp] coordinates {
(88,62) (92,66) (96,60.5) (100,64) (104,68) (108,62) (90,72) (95,76) (99,70) (103,78.5) (107,72) (112,68)
(89,82) (93,86) (97,80.5) (101,88) (106,84) (110,78) (115,74) (91,95) (95,100) (99,91.5) (104,96) (108,90)
(113,86) (90,106) (96,110) (100,104) (105,108) (110,101) (117,95) (94,118) (99,124) (104,116) (109,120)
(114,112) (118,105) (122,98) (97,130) (103,136) (108,128) (113,134) (102,145) (110,150) (95,140) (118,122)
(126,110) (130,100) (133,90) (128,82) (122,76) (118,64) (126,68) (132,74) (137,80)
(131.5,248.3) (226.4,251.2) (220.2,247.3) (213,243.3) (202.8,239.9) (174.4,243.8) (177,238.9) (175.5,241)
(105.1,241.4) (56.5,238.4) (53.8,226.6) (55,223.6) (72,238.9) (77,235.2) (77,230.8) (64.7,229) (68.8,225.4)
(73.8,225.4) (83.3,221.7) (87.2,221.7) (92.9,221) (96.5,217.7) (105.4,231) (121.3,221.7) (154.9,219.7)
(189.6,227.8) (40.6,213.8) (61.8,214.3) (69.7,214.3) (56,208) (56,204.4) (66.3,206.9) (71,203.2) (74.2,203.9)
(78.8,199.9) (73.6,199.5) (84.5,194) (69.7,187.1) (75.5,188.8) (81.1,189.6) (78.8,184.7) (85.6,184.7)
(86,178.5) (92.4,198.2) (96.2,197) (100.8,203.9) (100.3,190.8) (111,190.8) (103.7,211.3) (104.2,206.9)
(121.9,200.7) (124.2,210) (137.4,203.9) (138.3,208.1) (142.4,198.2) (151,203.9) (148,190.8) (149.2,184.2)
(141.2,187.6) (132.8,182.2) (154.2,219.2) (162.1,209.3) (165.1,211.8) (169,213) (172.3,214.3) (162.4,182.2)
(164,180.5) (164.4,187.1) (216.8,211.8) (207.8,201.9) (211.2,199) (215,194.5) (218.5,185.9) (221.2,183.4)
(199.1,168.6) (200.3,163.2) (202.5,166.2) (201.9,155.1) (204.8,150.9) (207.1,145.2) (194.1,143.5)
(204.1,139) (237.3,136.6) (231.4,107.7) (187.1,107.7) (190.7,95.9) (183.2,132.2) (173.5,163.7)
(172.5,157.5) (173,141.5) (172.5,121.8) (164,125.5) (160.1,121.8) (179.8,84.8) (176.9,86) (175.3,73.7)
(171.6,91.5) (169,92.5) (173,90.5) (162.8,81.6) (165.7,81.6) (156,76.2) (157.2,82.3) (161.6,65.1)
(151.4,86) (150.3,79.9) (151,47.9) (148.7,39.7) (149.2,68.8) (150.3,66.3) (142.4,76.2) (143.5,71.2)
(135.1,70.5) (136.7,66.3) (135.6,81.1) (137.8,89.7) (142.8,93.4) (145.8,103.3) (142.4,107) (154.9,98.4)
(158.3,95.9) (154.9,104.5) (145.8,118.1) (142.4,116.9) (151.4,123) (153.7,123) (161.6,131.7) (152.1,132.9)
(149.2,136.6) (164,146.4) (154.2,155.6) (149,151.4) (149,149.6) (142.4,142.8) (137.8,139.8) (134.4,142.8)
(136.7,157.5) (139,155.6) (136.7,163.7) (137.8,160.7) (132.2,156.3) (124.2,153.8) (126.5,151.4) (131,140.3)
(124.2,118.1) (126.5,115.6) (128.7,107) (128.7,103.3) (128.7,95.9) (128.7,93.4) (117.4,115.6) (119.7,118.1)
(119.7,125.5) (114.6,137.8) (111.7,134.1) (125.3,132.9) (112.9,150.1) (117,153.8) (107.1,126.7) (106,137.8)
(108.3,132.9) (121.9,99.6) (121.5,93.4) (118.5,94.7) (119.7,89.7) (126.9,86) (121.5,71.2) (123.1,67.5)
(126.5,56.4) (119.7,60.1) (121.9,55.2) (112.9,71.2) (116.3,67.5) (110.6,78.6) (108.3,81.1) (102.6,78.6)
(99.2,76.2) (104.9,73.7) (99.2,95.9) (96.9,93.4) (106,98.4) (147,83.6) (147,86) (151.4,61.4) (138.9,54)
(133.3,50.3) (129.9,47.9) (124.2,49) (131,41.6) (127.6,44.2) (119.7,46.6) (117.4,41.6) (142.4,40.5) (185.5,79.9)
};
\draw[line width=0.8bp, black!70] (axis cs:70.4,87.3) ellipse [x radius=19.1, y radius=27.2];
\draw[line width=0.8bp, black!70] (axis cs:94.9,43.3) ellipse [x radius=18.4, y radius=19.4];
\draw[line width=0.8bp, black!70] (axis cs:113.3,49) -- (axis cs:113.3,37);
\node[font=\regfont] at (axis cs:98,108) {R2};
\node[font=\regfont] at (axis cs:130,38) {R1};
\end{axis}

% axis titles
\node[rotate=90, anchor=base, font=\labfont] at (33,254) {PE Ly-6G and Ly-6C};
\node[anchor=base, font=\labfont] at (284,29) {FITC Ly-6G};
\node[rotate=90, anchor=base, font=\labfont] at (600,257) {Side Scatter (SSC)};
\node[anchor=base, font=\labfont] at (849,29) {Forward Scatter (FSC)};
\end{tikzpicture}
\end{document}
